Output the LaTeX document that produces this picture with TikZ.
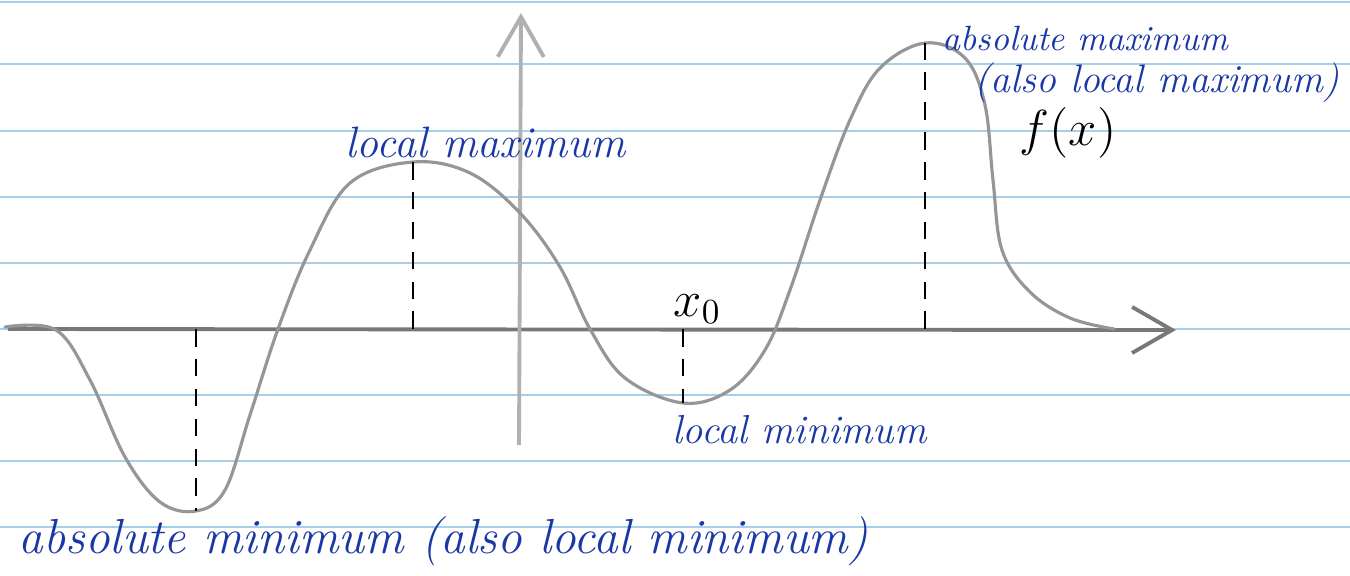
\documentclass[tikz,border=0pt]{standalone}
\usetikzlibrary{arrows.meta}
\definecolor{inkblue}{RGB}{25,55,165}
\definecolor{ruleblue}{RGB}{165,208,236}
\definecolor{pencil}{RGB}{150,150,150}
\begin{document}
\begin{tikzpicture}[x=0.01cm, y=-0.01cm,
    ruled/.style={ruleblue, line width=0.7pt},
    axis/.style={pencil!80!black, line width=1.1pt, -{Straight Barb[length=4mm, width=4.6mm, line width=1.1pt]}},
    curve/.style={pencil, line width=0.9pt, line cap=round},
    drop/.style={black, line width=0.8pt, dash pattern=on 5pt off 3.5pt},
    ink/.style={inkblue, font=\itshape, inner sep=0pt}]
  \useasboundingbox (0,0) rectangle (1350,575);
  \foreach \y in {2,64,131,197,263,329,395,461,527}
    \draw[ruled] (0,\y) -- (1350,\y);

  \coordinate (xstart) at (8,329);
  \coordinate (xend) at (1176,330);
  \coordinate (ystart) at (519,445);
  \coordinate (yend) at (521,13);
  \draw[axis] (xstart) -- (xend);
  \draw[axis, pencil!75] (ystart) -- (yend);

  \draw[curve] plot[smooth, tension=0.6] coordinates {
    (5,327) (56,330) (90,380) (125,457) (160,502) (196,511) (225,490)
    (250,415) (278,329) (310,250) (350,183) (413,162) (470,173) (520,213)
    (560,267) (590,329) (625,378) (683,403) (730,390) (765,350) (790,290)
    (820,200) (850,120) (880,68) (925,43) (965,58) (985,105) (993,180)
    (1002,250) (1030,292) (1070,318) (1114,329)};

  \foreach \name/\px/\py in {absmin/196/511, locmax/413/162, locmin/683/403, absmax/925/43} {
    \coordinate (\name) at (\px,\py);
    \coordinate (\name foot) at (\px,329);
    \draw[drop] (\name foot) -- (\name);
  }

  \node[ink, anchor=base west, font=\itshape\fontsize{12.5}{14}\selectfont] (locmaxlab) at (345,157) {local maximum};
  \node[ink, anchor=base west, font=\itshape\fontsize{10}{12}\selectfont] (absmaxlab) at (942,50) {absolute maximum};
  \node[ink, anchor=base west, font=\itshape\fontsize{11.3}{13}\selectfont] (alsomaxlab) at (974,92) {(also local maximum)};
  \node[ink, anchor=base west, font=\itshape\fontsize{11.5}{14}\selectfont] (locminlab) at (672,443) {local minimum};
  \node[ink, anchor=base west, font=\itshape\fontsize{14}{16}\selectfont] (absminlab) at (18,553) {absolute minimum (also local minimum)};
  \node[anchor=base west, inner sep=0pt, font=\fontsize{15}{17}\selectfont] (fx) at (1019,145) {$f(x)$};
  \node[anchor=base west, inner sep=0pt, font=\fontsize{14}{16}\selectfont] (xzero) at (673,316) {$x_0$};
\end{tikzpicture}
\end{document}
